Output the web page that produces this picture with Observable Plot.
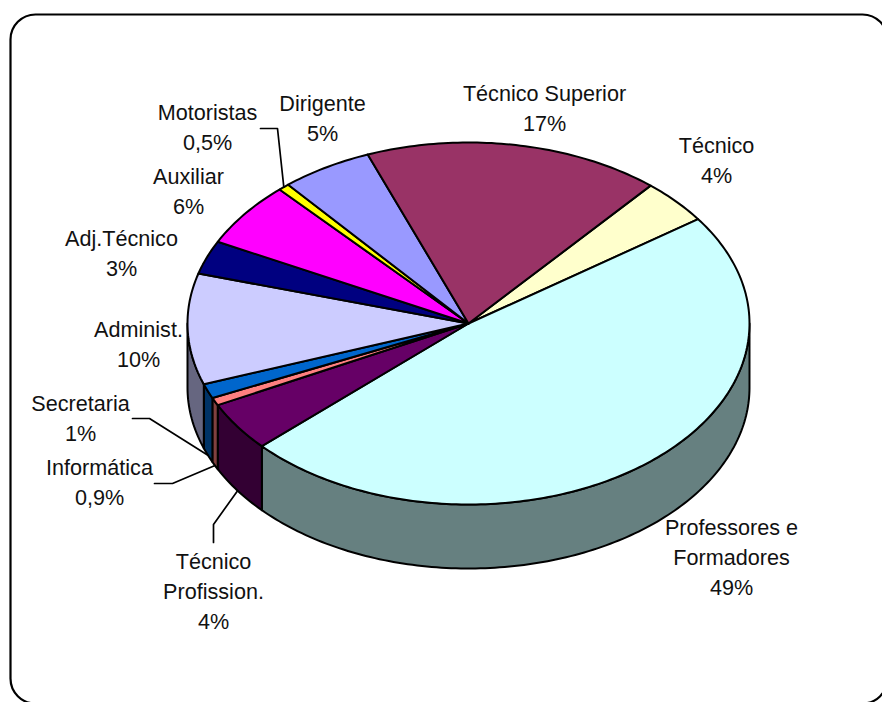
<!DOCTYPE html>
<html>
<head>
<meta charset="utf-8">
<script src="https://cdn.jsdelivr.net/npm/d3@7"></script>
<script src="https://cdn.jsdelivr.net/npm/@observablehq/plot@0.6"></script>
<style>
  html, body { margin: 0; padding: 0; background: #fff; overflow: hidden; }
</style>
</head>
<body>
<div id="chart"></div>
<script>
// ---- data (clockwise, starting from the Técnico slice) ----
const categories = ["Técnico", "Professores e\nFormadores", "Técnico\nProfission.", "Informática", "Secretaria",
  "Administ.", "Adj.Técnico", "Auxiliar", "Motoristas", "Dirigente", "Técnico Superior"];
const shares = [4.0, 47.9, 4.4, 0.7, 1.3, 9.9, 3.0, 5.8, 0.65, 5.25, 17.05];
const shareLabels = ["4%", "49%", "4%", "0,9%", "1%", "10%", "3%", "6%", "0,5%", "5%", "17%"];

// ---- styles ----
const sliceColors = ["#FFFFCC", "#CCFFFF", "#660066", "#FF8080", "#0066CC", "#CCCCFF", "#000080", "#FF00FF", "#FFFF00", "#9999FF", "#993366"];
const wallColors = ["#808066", "#668080", "#330033", "#804040", "#003366", "#666680", "#000040", "#800080", "#808000", "#4D4D80", "#4D1A33"];

// ---- layout (page pixels) ----
const W = 882, H = 702, cx = 468, cy = 323, rx = 281, ry = 181, depthPx = 64, startDeg = 40.4;
const labelX = [716, 731, 213, 99, 80, 138, 121, 188, 207, 322, 544];
const labelY = [160, 557, 591, 482, 418, 344, 253, 191, 127, 118, 108];
const leaderElbows = {
  2: [[213, 542], [213, 524]],
  3: [[154, 483], [172, 483]],
  4: [[132, 418], [149, 418]],
  8: [[260, 128], [277, 128]]
};

const ux = p => (p - cx) / rx;
const uy = p => (p - cy) / ry;
const depth = depthPx / ry;
const rad = a => a * Math.PI / 180;
const rim = (a, d = 0) => ({ x: Math.sin(rad(a)), y: -Math.cos(rad(a)) + d });

// slice angular extents derived from the shares
const total = d3.sum(shares);
let running = startDeg;
const slices = categories.map((name, i) => {
  const a0 = running;
  running += shares[i] / total * 360;
  return { i, name, a0, a1: running };
});

function arc(a0, a1, d = 0) {
  const n = Math.max(2, Math.ceil(Math.abs(a1 - a0)));
  return d3.range(n + 1).map(k => rim(a0 + (a1 - a0) * k / n, d));
}

// top faces
const topPts = slices.flatMap(s =>
  [{ x: 0, y: 0 }, ...arc(s.a0, s.a1)].map(p => ({ ...p, key: s.i, fill: sliceColors[s.i] })));

// outer walls: only the front half of the rim faces the viewer
const wallPts = slices.flatMap(s => {
  const a0 = Math.max(s.a0, 90), a1 = Math.min(s.a1, 270);
  if (a1 <= a0) return [];
  return [...arc(a0, a1), ...arc(a1, a0, depth)].map(p => ({ ...p, key: s.i, fill: wallColors[s.i] }));
});

// leader lines end on the middle of the slice's lower rim, or upper rim for back slices
const leaderPts = Object.entries(leaderElbows).flatMap(([k, elbows]) => {
  const s = slices[+k], mid = (s.a0 + s.a1) / 2;
  const front = mid > 90 && mid < 270;
  const end = rim(mid, front ? depth : 0);
  return [...elbows.map(([x, y]) => ({ x: ux(x), y: uy(y) })), end].map(p => ({ ...p, key: k }));
});

const labels = slices.map(s => ({
  x: ux(labelX[s.i]), y: uy(labelY[s.i]), text: s.name + "\n" + shareLabels[s.i]
}));

const chart = Plot.plot({
  width: W, height: H,
  margin: 0,
  style: { background: "#fff" },
  x: { domain: [ux(0), ux(W)], range: [0, W], axis: null },
  y: { domain: [uy(0), uy(H)], range: [0, H], axis: null },
  color: { type: "identity" },
  marks: [
    Plot.frame({ stroke: "#000", strokeWidth: 2.2, rx: 25, insetLeft: 10, insetTop: 14, insetRight: -5, insetBottom: -1 }),
    Plot.line(wallPts, { x: "x", y: "y", z: "key", fill: "fill", stroke: "#000", strokeWidth: 2, curve: "linear-closed" }),
    Plot.line(topPts, { x: "x", y: "y", z: "key", fill: "fill", stroke: "#000", strokeWidth: 2, curve: "linear-closed" }),
    Plot.line(leaderPts, { x: "x", y: "y", z: "key", stroke: "#000", strokeWidth: 1.7 }),
    Plot.text(labels, {
      x: "x", y: "y", text: "text", fontSize: 21.6, lineHeight: 1.39, lineAnchor: "middle", dy: -2.5,
      textAnchor: "middle", fontFamily: "'Liberation Sans', Arial, sans-serif", fill: "#111"
    })
  ]
});
document.getElementById("chart").appendChild(chart);
</script>
</body>
</html>
